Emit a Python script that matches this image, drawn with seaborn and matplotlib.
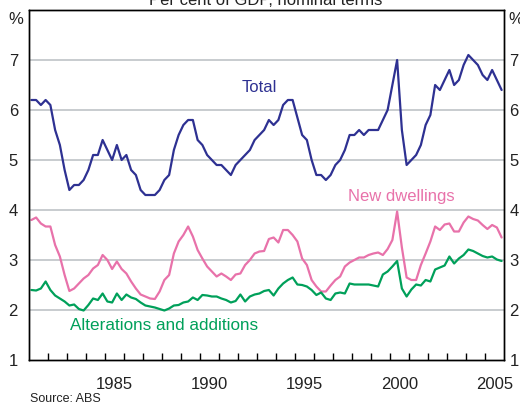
import numpy as np
import pandas as pd
import matplotlib
matplotlib.use("Agg")
import matplotlib.pyplot as plt
import seaborn as sns

# ---- data (quarterly, 1981Q1 .. 2005Q4), per cent of GDP ----
total = [6.2, 6.2, 6.1, 6.2, 6.1, 5.6, 5.3, 4.8, 4.4, 4.5, 4.5, 4.6, 4.8, 5.1, 5.1, 5.4, 5.2, 5.0, 5.3, 5.0, 5.1, 4.8, 4.7, 4.4, 4.3, 4.3,
         4.3, 4.4, 4.6, 4.7, 5.2, 5.5, 5.7, 5.8, 5.8, 5.4, 5.3, 5.1, 5.0, 4.9, 4.9, 4.8, 4.7, 4.9, 5.0, 5.1, 5.2, 5.4, 5.5, 5.6, 5.8,
         5.7, 5.8, 6.1, 6.2, 6.2, 5.85, 5.5, 5.4, 5.0, 4.7, 4.7, 4.6, 4.7, 4.9, 5.0, 5.2, 5.5, 5.5, 5.6, 5.5, 5.6, 5.6, 5.6, 5.8, 6.0,
         6.5, 7.0, 5.6, 4.9, 5.0, 5.1, 5.3, 5.7, 5.9, 6.5, 6.4, 6.6, 6.8, 6.5, 6.6, 6.9, 7.1, 7.0, 6.9, 6.7, 6.6, 6.8, 6.6, 6.4]
new_dwellings = [3.8, 3.85, 3.73, 3.67, 3.67, 3.3, 3.07, 2.7, 2.38, 2.43, 2.53, 2.63, 2.7, 2.83, 2.9, 3.1, 3.0, 2.82, 2.97, 2.82, 2.73, 2.57, 2.43, 2.31, 2.27, 2.23,
                 2.22, 2.37, 2.6, 2.7, 3.13, 3.37, 3.5, 3.67, 3.47, 3.2, 3.03, 2.87, 2.77, 2.67, 2.73, 2.67, 2.6, 2.71, 2.73, 2.9, 3.0, 3.13, 3.17, 3.18, 3.42,
                 3.45, 3.35, 3.6, 3.6, 3.5, 3.37, 3.03, 2.9, 2.6, 2.47, 2.37, 2.37, 2.49, 2.6, 2.67, 2.87, 2.95, 3.0, 3.05, 3.05, 3.1, 3.13, 3.15, 3.1, 3.22,
                 3.4, 3.97, 3.25, 2.65, 2.6, 2.6, 2.9, 3.13, 3.37, 3.67, 3.6, 3.71, 3.73, 3.57, 3.57, 3.75, 3.87, 3.82, 3.79, 3.7, 3.62, 3.7, 3.65, 3.45]
alterations = [2.4, 2.39, 2.43, 2.57, 2.4, 2.29, 2.23, 2.17, 2.09, 2.11, 2.02, 1.99, 2.1, 2.23, 2.2, 2.33, 2.17, 2.15, 2.33, 2.2, 2.31, 2.25, 2.22, 2.15, 2.09, 2.07,
               2.05, 2.02, 1.99, 2.03, 2.09, 2.1, 2.15, 2.17, 2.25, 2.2, 2.3, 2.29, 2.27, 2.27, 2.23, 2.2, 2.15, 2.18, 2.31, 2.17, 2.27, 2.31, 2.33, 2.38, 2.4,
               2.29, 2.43, 2.53, 2.6, 2.65, 2.51, 2.5, 2.47, 2.4, 2.3, 2.35, 2.23, 2.2, 2.33, 2.35, 2.33, 2.53, 2.51, 2.51, 2.51, 2.51, 2.49, 2.47, 2.71, 2.77,
               2.87, 2.98, 2.43, 2.27, 2.41, 2.51, 2.49, 2.6, 2.57, 2.81, 2.85, 2.89, 3.07, 2.93, 3.03, 3.1, 3.21, 3.18, 3.13, 3.08, 3.05, 3.07, 3.01, 2.98]
series_names = ["Total", "New dwellings", "Alterations and additions"]
colors = ["#2e3192", "#e872aa", "#00a05a"]
year_labels = [1985, 1990, 1995, 2000, 2005]
y_ticks = [1, 2, 3, 4, 5, 6, 7]

start_year = 1981
n = len(total)
dates = [start_year + 0.125 + 0.25 * i for i in range(n)]

df = pd.concat([
    pd.DataFrame({"date": dates, "value": vals, "series": name})
    for name, vals in zip(series_names, [total, new_dwellings, alterations])
], ignore_index=True)

sns.set_style("white")
plt.rcParams["font.family"] = ["Liberation Sans", "DejaVu Sans"]

W, H = 520, 404
fig = plt.figure(figsize=(W / 100, H / 100), dpi=100)
ax = fig.add_axes([29 / W, 1 - 360 / H, (504 - 29) / W, (360 - 10) / H])

for yv in y_ticks[1:]:
    ax.axhline(yv, color="#c4c8cc", lw=1.3, zorder=0)

sns.lineplot(data=df, x="date", y="value", hue="series", palette=dict(zip(series_names, colors)),
             hue_order=series_names, legend=False, linewidth=1.6, ax=ax, estimator=None)

ax.set_xlim(1981, 2006)
ax.set_ylim(1, 8)
ax.set_xlabel("")
ax.set_ylabel("")

# x: year tick marks inward, labels centred mid-year
ax.set_xticks([y + 0.5 for y in year_labels])
ax.set_xticklabels([str(y) for y in year_labels])
ax.set_xticks(list(range(1982, 2006)), minor=True)
ax.tick_params(axis="x", which="major", length=0, pad=12, labelsize=12, colors="#222222")
ax.tick_params(axis="x", which="minor", direction="in", length=5, width=1, color="black", bottom=True, top=False)

ax.set_yticks(y_ticks)
ax.set_yticklabels([str(v) for v in y_ticks])
ax.tick_params(axis="y", which="both", length=0, labelsize=12, left=False, right=False,
               labelleft=True, labelright=False, pad=8, colors="#222222")

ax2 = ax.twinx()
ax2.set_ylim(ax.get_ylim())
ax2.set_yticks(y_ticks)
ax2.set_yticklabels([str(v) for v in y_ticks])
ax2.tick_params(axis="y", length=0, labelsize=12, pad=4, colors="#222222")
ax2.grid(False)

for a in (ax, ax2):
    for s in a.spines.values():
        s.set_visible(True)
        s.set_color("black")
        s.set_linewidth(1.0)

ax.text(1993.1, 6.46, "Total", color=colors[0], fontsize=12, ha="center", va="center")
ax.text(2000.6, 4.28, "New dwellings", color=colors[1], fontsize=12, ha="center", va="center")
ax.text(1988.1, 1.68, "Alterations and additions", color=colors[2], fontsize=12.3, ha="center", va="center")

fig.text(16 / W, 1 - 19 / H, "%", fontsize=12, ha="center", va="center", color="#222222")
fig.text(508 / W, 1 - 19 / H, "%", fontsize=12, ha="left", va="center", color="#222222")
fig.text(266 / W, 1 - 5 / H, "Per cent of GDP, nominal terms", fontsize=12, ha="center", va="baseline", color="#222222")
fig.text(30 / W, 1 - 399 / H, "Source: ABS", fontsize=9, ha="left", va="center", color="#222222")

fig.savefig("out.png", dpi=100)
